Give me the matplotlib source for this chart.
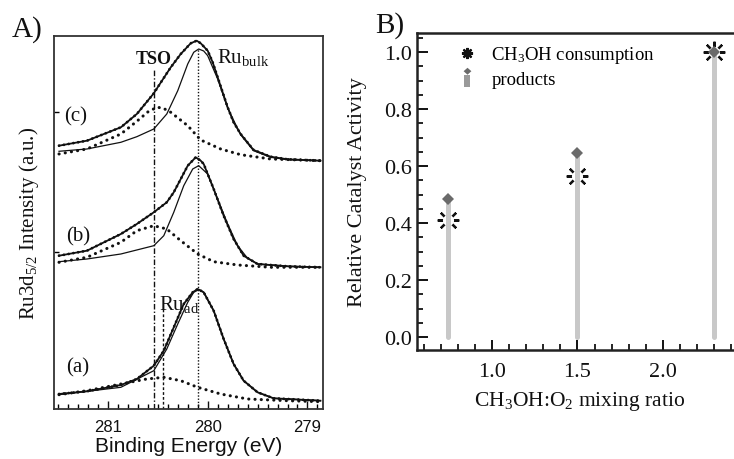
import matplotlib
matplotlib.use('Agg')
import matplotlib.pyplot as plt
from matplotlib.ticker import MultipleLocator, FixedLocator, NullFormatter
from matplotlib.lines import Line2D
from matplotlib.path import Path
from matplotlib.legend_handler import HandlerTuple

# ---------------- Panel A data (binding energy eV, intensity a.u.) ----------------
c_env_E = [281.49, 281.21, 280.87, 280.71, 280.54, 280.46, 280.37, 280.27, 280.17, 280.11,
           280.07, 280.00, 279.95, 279.90, 279.85, 279.80, 279.74, 279.67, 279.54, 279.37,
           279.20, 278.87]
c_env_I = [263.3, 268.3, 281.7, 295.0, 315.7, 328.0, 341.7, 355.0, 365.7, 368.3,
           365.7, 358.3, 346.7, 331.7, 316.7, 301.7, 286.7, 275.0, 259.0, 252.3,
           249.7, 248.3]
c_bulk_E = [281.49, 281.21, 280.87, 280.71, 280.54, 280.41, 280.30, 280.20, 280.14, 280.09,
            280.04, 280.00, 279.90, 279.80, 279.67, 279.54, 279.37, 279.20, 278.87]
c_bulk_I = [257.7, 260.0, 266.7, 272.3, 280.0, 295.0, 318.3, 345.0, 356.7, 360.0,
            358.0, 353.3, 330.0, 301.0, 274.3, 258.3, 251.7, 249.3, 248.3]
c_tso_E = [281.49, 281.21, 280.87, 280.71, 280.60, 280.51, 280.45, 280.37, 280.20, 280.07,
           279.87, 279.67, 279.37, 278.87]
c_tso_I = [255.0, 260.0, 275.0, 287.7, 297.0, 301.7, 301.0, 296.7, 283.3, 269.0,
           260.0, 254.3, 250.0, 248.3]

b_env_E = [281.49, 281.21, 280.87, 280.71, 280.54, 280.41, 280.34, 280.27, 280.20, 280.12,
           280.07, 280.04, 279.94, 279.84, 279.74, 279.64, 279.50, 279.20, 278.87]
b_env_I = [153.3, 158.3, 175.0, 185.0, 196.7, 206.7, 216.7, 230.0, 243.3, 251.7,
           248.3, 245.0, 220.0, 193.3, 170.0, 153.3, 145.0, 142.7, 141.7]
b_bulk_E = [281.49, 281.21, 280.87, 280.54, 280.44, 280.34, 280.24, 280.15, 280.09, 280.00,
            279.90, 279.80, 279.70, 279.60, 279.50, 279.20, 278.87]
b_bulk_I = [147.3, 150.0, 155.0, 163.3, 173.3, 196.7, 223.3, 240.0, 243.3, 235.0,
            210.0, 185.0, 163.3, 150.7, 145.0, 142.7, 141.7]
b_tso_E = [281.49, 281.21, 280.87, 280.71, 280.54, 280.41, 280.27, 280.10, 279.94, 279.70,
           279.37, 278.87]
b_tso_I = [146.7, 151.7, 166.7, 178.3, 183.3, 180.0, 168.3, 155.0, 147.3, 144.0,
           141.7, 141.7]

a_env_E = [281.49, 281.21, 280.87, 280.71, 280.54, 280.44, 280.34, 280.24, 280.15, 280.10,
           280.04, 279.94, 279.84, 279.74, 279.64, 279.50, 279.34, 278.87]
a_env_I = [15.0, 17.7, 24.0, 30.0, 43.3, 58.3, 81.7, 105.0, 116.7, 120.0,
           116.7, 98.3, 70.0, 45.0, 28.3, 16.7, 10.7, 8.3]
a_bulk_E = [281.49, 280.87, 280.54, 280.41, 280.30, 280.20, 280.14, 280.09, 280.04, 279.94,
            279.84, 279.74, 279.64, 279.50, 279.34, 278.87]
a_bulk_I = [14.3, 21.7, 38.3, 60.0, 85.0, 106.7, 116.7, 119.3, 116.7, 98.3,
            70.0, 45.0, 28.3, 16.7, 10.7, 8.3]
a_ad_E = [281.49, 281.21, 280.87, 280.61, 280.44, 280.27, 280.10, 279.87, 279.60, 279.20, 278.87]
a_ad_I = [14.3, 18.3, 25.0, 30.0, 31.7, 28.3, 21.7, 15.0, 10.0, 8.3, 7.3]

spectrum_labels = ['(c)', '(b)', '(a)']
E_tso = 280.54
E_bulk = 280.10
E_ad = 280.45
A_xticks = [281, 280, 279]

# ---------------- Panel B data ----------------
mixing_ratio = [0.74, 1.5, 2.3]
ch3oh_consumption = [0.41, 0.565, 1.0]
products = [0.485, 0.645, 1.0]
B_xticks = [1.0, 1.5, 2.0]
B_yticks = [0.0, 0.2, 0.4, 0.6, 0.8, 1.0]

# ---------------- style ----------------
plt.rcParams['font.family'] = ['Liberation Serif', 'DejaVu Serif']
plt.rcParams['mathtext.fontset'] = 'custom'
plt.rcParams['mathtext.rm'] = 'Liberation Serif'
plt.rcParams['mathtext.it'] = 'Liberation Serif:italic'
plt.rcParams['mathtext.bf'] = 'Liberation Serif:bold'

INK = '#111111'
fig = plt.figure(figsize=(7.34, 4.60), dpi=100)

# ================= Panel A =================
axA = fig.add_axes([0.0736, 0.1087, 0.3665, 0.8109])
axA.set_xlim(281.54, 278.844)
axA.set_ylim(0, 373)

spectra = [
    (c_env_E, c_env_I, c_bulk_E, c_bulk_I, c_tso_E, c_tso_I),
    (b_env_E, b_env_I, b_bulk_E, b_bulk_I, b_tso_E, b_tso_I),
    (a_env_E, a_env_I, a_bulk_E, a_bulk_I, a_ad_E, a_ad_I),
]
for envE, envI, bE, bI, tE, tI in spectra:
    axA.plot(bE, bI, color=INK, lw=0.9, zorder=3)
    axA.plot(tE, tI, color=INK, lw=2.2, linestyle=(0, (0.05, 2.0)),
             dash_capstyle='round', zorder=3)
    axA.plot(envE, envI, color=INK, lw=1.3, zorder=4)
    axA.plot(envE, envI, color=INK, lw=2.0, linestyle=(0, (0.05, 1.7)),
             dash_capstyle='round', zorder=4)

axA.vlines(E_tso, 0, 340, colors=INK, lw=1.0, linestyles=[(0, (4, 1.5, 1, 1.5))], zorder=2)
axA.vlines(E_bulk, 0, 360, colors=INK, lw=1.0, linestyles=[(0, (1, 1.3))], zorder=2)
axA.vlines(E_ad, 0, 102, colors=INK, lw=1.0, linestyles=[(0, (2, 1.5))], zorder=2)

axA.text(E_tso, 350, 'TSO', fontsize=13, fontweight='bold', ha='center', va='center', color=INK)
axA.text(279.91, 347, r'Ru$_{\mathrm{bulk}}$', fontsize=15, ha='left', va='baseline', color=INK)
axA.text(280.49, 100, r'Ru$_{\mathrm{ad}}$', fontsize=15, ha='left', va='baseline', color=INK, zorder=1)
for lab, (xx, yy) in zip(spectrum_labels, [(281.44, 293), (281.42, 173), (281.42, 42)]):
    axA.text(xx, yy, lab, fontsize=15, ha='left', va='center', color=INK)

axA.xaxis.set_major_locator(FixedLocator(A_xticks))
axA.xaxis.set_minor_locator(MultipleLocator(0.1))
axA.set_xticklabels([str(t) for t in A_xticks], family='Liberation Sans', fontsize=12)
axA.tick_params(axis='x', which='major', direction='in', length=6, width=1.0, pad=7, colors=INK)
axA.tick_params(axis='x', which='minor', direction='in', length=3.5, width=1.0)
axA.yaxis.set_major_locator(FixedLocator([157, 297]))
axA.yaxis.set_major_formatter(NullFormatter())
axA.tick_params(axis='y', which='major', direction='in', length=3.5, width=1.0)
for s in axA.spines.values():
    s.set_linewidth(1.3)
    s.set_color('#333333')

axA.set_xlabel('Binding Energy (eV)', family='Liberation Sans', fontsize=15, color=INK)
axA.xaxis.set_label_coords(0.5, -0.072)
axA.set_ylabel(r'Ru3d$_{5/2}$ Intensity (a.u.)', fontsize=15, color=INK)
axA.yaxis.set_label_coords(-0.05, 0.5)

fig.text(12 / 734, 1 - 37 / 460, 'A)', fontsize=21, ha='left', va='baseline', color=INK)

# ================= Panel B =================
axB = fig.add_axes([0.5681, 0.237, 0.4441, 0.689])
axB.set_xlim(0.561, 2.468)
axB.set_ylim(-0.0456, 1.067)

BAR = '#c8c8c8'
DIA = '#6a6a6a'
axB.plot(mixing_ratio, ch3oh_consumption, linestyle='none', marker=(8, 2, 0),
         ms=15.5, mew=1.6, color=INK, zorder=3)
axB.plot(mixing_ratio, ch3oh_consumption, linestyle='none', marker='o',
         ms=8, mew=0, color='white', zorder=4)
axB.vlines(mixing_ratio, 0, products, colors=BAR, lw=3.6, zorder=5, capstyle='round')
axB.plot(mixing_ratio, products, linestyle='none', marker='D', ms=6.5, mew=0,
         color=DIA, zorder=6)

axB.xaxis.set_major_locator(FixedLocator(B_xticks))
axB.xaxis.set_minor_locator(MultipleLocator(0.1))
axB.yaxis.set_major_locator(FixedLocator(B_yticks))
axB.yaxis.set_minor_locator(MultipleLocator(0.05))
axB.set_xticklabels(['%.1f' % t for t in B_xticks], fontsize=16)
axB.set_yticklabels(['%.1f' % t for t in B_yticks], fontsize=16)
axB.tick_params(axis='x', which='major', direction='in', length=7.5, width=1.4, pad=8.5, colors=INK)
axB.tick_params(axis='x', which='minor', direction='in', length=4, width=1.2)
axB.tick_params(axis='y', which='major', direction='in', length=8, width=1.4, pad=3.5, colors=INK)
axB.tick_params(axis='y', which='minor', direction='in', length=4.5, width=1.2)
for s in axB.spines.values():
    s.set_linewidth(1.8)
    s.set_color('#222222')
axB.spines['right'].set_visible(False)

axB.set_xlabel(r'CH$_3$OH:O$_2$ mixing ratio', fontsize=15.5, color=INK)
axB.xaxis.set_label_coords(0.5, -0.123)
axB.set_ylabel('Relative Catalyst Activity', fontsize=16, color=INK)
axB.yaxis.set_label_coords(-0.153, 0.5)

diamond_path = Path([(0, 0.3), (0.42, 0.68), (0, 1.05), (-0.42, 0.68), (0, 0.3)],
                    [Path.MOVETO, Path.LINETO, Path.LINETO, Path.LINETO, Path.CLOSEPOLY])
bar_path = Path([(-0.3, -1.05), (0.3, -1.05), (0.3, 0.22), (-0.3, 0.22), (-0.3, -1.05)],
                [Path.MOVETO, Path.LINETO, Path.LINETO, Path.LINETO, Path.CLOSEPOLY])
h_cons = Line2D([], [], linestyle='none', marker=(8, 2, 0), ms=8, mew=1.6, color=INK)
h_bar = Line2D([], [], linestyle='none', marker=bar_path, ms=14, mew=0, color='#9a9a9a')
h_dia = Line2D([], [], linestyle='none', marker=diamond_path, ms=14, mew=0, color=DIA)
leg = axB.legend([h_cons, (h_bar, h_dia)],
                 [r'CH$_3$OH consumption', 'products'],
                 handler_map={tuple: HandlerTuple(ndivide=1, pad=0)},
                 loc='upper left', bbox_to_anchor=(0.1245, 0.965), frameon=False,
                 fontsize=13.5, handlelength=1.0, handletextpad=0.8,
                 borderpad=0, borderaxespad=0, labelspacing=0.3)

fig.text(375 / 734, 1 - 33 / 460, 'B)', fontsize=21, ha='left', va='baseline', color=INK)

fig.savefig('out.png', dpi=100)
